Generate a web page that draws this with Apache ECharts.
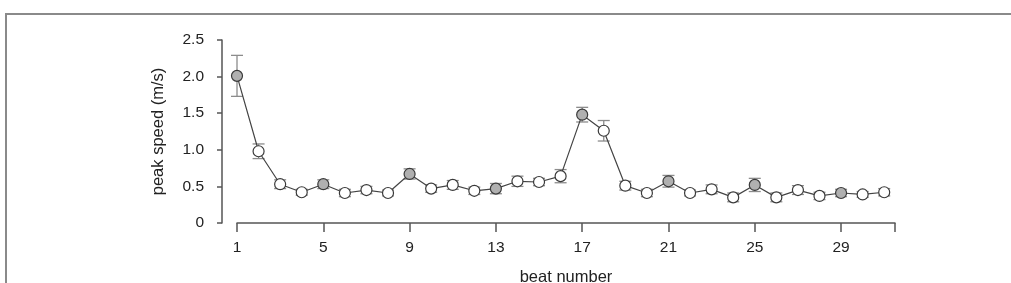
<!DOCTYPE html>
<html>
<head>
<meta charset="utf-8">
<script src="https://cdn.jsdelivr.net/npm/echarts@6/dist/echarts.min.js"></script>
<style>
html,body{margin:0;padding:0;background:#fff;}
#chart{width:1011px;height:283px;}
</style>
</head>
<body>
<div id="chart"></div>
<script>
// Data
const beats = [1,2,3,4,5,6,7,8,9,10,11,12,13,14,15,16,17,18,19,20,21,22,23,24,25,26,27,28,29,30,31];
const peakSpeed = [2.01,0.98,0.53,0.42,0.53,0.41,0.45,0.41,0.67,0.47,0.52,0.44,0.47,0.57,0.56,0.64,1.48,1.26,0.51,0.41,0.57,0.41,0.46,0.35,0.52,0.35,0.45,0.37,0.41,0.39,0.42];
const errHalf = [0.28,0.10,0.06,0.04,0.06,0.05,0.05,0.04,0.07,0.05,0.06,0.05,0.07,0.07,0.05,0.09,0.10,0.14,0.06,0.05,0.08,0.04,0.06,0.06,0.09,0.06,0.06,0.05,0.05,0.04,0.05];
const filledBeats = [1,5,9,13,17,21,25,29];
const xTickLabels = [1,5,9,13,17,21,25,29];
const yTicks = [0,0.5,1.0,1.5,2.0,2.5];

const chart = echarts.init(document.getElementById('chart'), null, {renderer:'canvas'});
const font = 'Liberation Sans, Arial, Helvetica, sans-serif';

const lineData = beats.map((b,i)=>({
  value:[b, peakSpeed[i]],
  itemStyle:{color: filledBeats.includes(b) ? '#b0b0b0' : '#ffffff'}
}));
const errData = beats.map((b,i)=>[b, peakSpeed[i]-errHalf[i], peakSpeed[i]+errHalf[i]]);

chart.setOption({
  animation:false,
  backgroundColor:'#fff',
  graphic:[{
    type:'rect', silent:true, z:-1,
    shape:{x:6,y:14,width:1200,height:400},
    style:{fill:'none', stroke:'#8a8a8a', lineWidth:2}
  }],
  grid:{left:237,right:116,top:40,bottom:60,containLabel:false,outerBoundsMode:'none'},
  xAxis:{
    type:'value', min:1, max:31.5,
    name:'beat number', nameLocation:'middle', nameGap:46,
    nameTextStyle:{fontFamily:font,fontSize:16.5,color:'#222'},
    axisLine:{show:true,onZero:false,lineStyle:{color:'#555',width:1.5}},
    axisTick:{show:true,length:9,customValues:[1,5,9,13,17,21,25,29,31.5],lineStyle:{color:'#555',width:1.5}},
    axisLabel:{customValues:xTickLabels,margin:17,fontFamily:font,fontSize:15.5,color:'#222'},
    splitLine:{show:false}
  },
  yAxis:{
    type:'value', min:yTicks[0], max:yTicks[yTicks.length-1], interval:0.5, offset:15,
    name:'peak speed (m/s)', nameLocation:'middle', nameGap:55,
    nameTextStyle:{fontFamily:font,fontSize:16.5,color:'#222'},
    axisLine:{show:true,lineStyle:{color:'#555',width:1.5}},
    axisTick:{show:true,length:5,lineStyle:{color:'#555',width:1.5}},
    axisLabel:{margin:18,fontFamily:font,fontSize:15.5,color:'#222',
      formatter:v=> v===0 ? '0' : v.toFixed(1)},
    splitLine:{show:false}
  },
  series:[
    {
      type:'custom', z:1,
      data:errData,
      encode:{x:0,y:[1,2]},
      renderItem:function(params, api){
        const x = api.value(0);
        const lo = api.coord([x, api.value(1)]);
        const hi = api.coord([x, api.value(2)]);
        const hw = 6;
        const st = {stroke:'#8c8c8c', lineWidth:1.3};
        return {type:'group', children:[
          {type:'line', shape:{x1:lo[0],y1:lo[1],x2:hi[0],y2:hi[1]}, style:st},
          {type:'line', shape:{x1:lo[0]-hw,y1:lo[1],x2:lo[0]+hw,y2:lo[1]}, style:st},
          {type:'line', shape:{x1:hi[0]-hw,y1:hi[1],x2:hi[0]+hw,y2:hi[1]}, style:st}
        ]};
      }
    },
    {
      type:'line', z:2,
      data:lineData,
      symbol:'circle', symbolSize:11, showAllSymbol:true,
      lineStyle:{color:'#444',width:1.2},
      itemStyle:{borderColor:'#3a3a3a',borderWidth:1.2}
    }
  ]
});
</script>
</body>
</html>
